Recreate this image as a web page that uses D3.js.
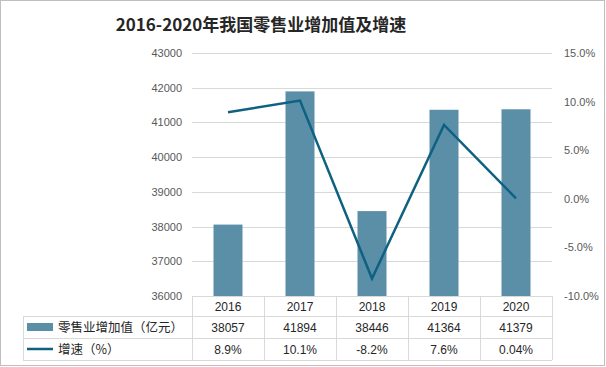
<!DOCTYPE html>
<html><head><meta charset="utf-8">
<script src="https://cdn.jsdelivr.net/npm/d3@7"></script>
<style>body{margin:0;background:#fff}svg{display:block}</style>
</head><body><svg id="c" width="606" height="367"></svg>
<script>
const years = ["2016","2017","2018","2019","2020"];
const values = [38057,41894,38446,41364,41379];
const growth = [8.9,10.1,-8.2,7.6,0.04];
const growthLabels = ["8.9%","10.1%","-8.2%","7.6%","0.04%"];
const leftTicks = [36000,37000,38000,39000,40000,41000,42000,43000];
const rightTicks = [-10,-5,0,5,10,15];
const seriesNames = ["零售业增加值（亿元）","增速（%）"];
const title = "2016-2020年我国零售业增加值及增速";

const svg = d3.select("#c");
const font = "'Noto Sans CJK SC','Microsoft YaHei',sans-serif";
const gray = "#595959";
const barColor = "#5b8fa8";
const lineColor = "#0f6182";
const gridColor = "#d9d9d9";

svg.append("rect").attr("x",0.5).attr("y",0.5).attr("width",604).attr("height",365)
  .attr("fill","#fff").attr("stroke","#bfbfbf");

svg.append("text").attr("x",261).attr("y",31).attr("text-anchor","middle")
  .attr("font-family",font).attr("font-weight","bold").attr("font-size",17)
  .attr("fill","#262626").text(title);

const x0 = 192, x1 = 552, yTop = 53, yBot = 296;
const x = d3.scaleBand().domain(years).range([x0,x1]);
const yL = d3.scaleLinear().domain([36000,43000]).range([yBot,yTop]);
const yR = d3.scaleLinear().domain([-10,15]).range([yBot,yTop]);

// grid
svg.append("g").selectAll("line").data(leftTicks).join("line")
  .attr("x1",x0).attr("x2",x1).attr("y1",d=>Math.round(yL(d))+0.5).attr("y2",d=>Math.round(yL(d))+0.5)
  .attr("stroke",gridColor).attr("stroke-width",1);

// left axis
const gl = svg.append("g").attr("transform",`translate(${x0},0)`)
  .call(d3.axisLeft(yL).tickValues(leftTicks).tickSize(0).tickPadding(10).tickFormat(d3.format("d")));
gl.select(".domain").remove();
gl.selectAll("text").attr("font-family","'Liberation Sans',Arial,sans-serif").attr("font-size",11).attr("fill",gray);

// right axis
const gr = svg.append("g").attr("transform",`translate(${x1},0)`)
  .call(d3.axisRight(yR).tickValues(rightTicks).tickSize(0).tickPadding(12).tickFormat(d=>d.toFixed(1)+"%"));
gr.select(".domain").remove();
gr.selectAll("text").attr("font-family","'Liberation Sans',Arial,sans-serif").attr("font-size",11).attr("fill",gray);

// bars
const bw = 29;
svg.append("g").selectAll("rect").data(values).join("rect")
  .attr("x",(d,i)=>x(years[i])+x.bandwidth()/2-bw/2).attr("width",bw)
  .attr("y",d=>yL(d)).attr("height",d=>yBot-yL(d)).attr("fill",barColor);

// line
const line = d3.line().x((d,i)=>x(years[i])+x.bandwidth()/2).y(d=>yR(d));
svg.append("path").datum(growth).attr("d",line).attr("fill","none")
  .attr("stroke",lineColor).attr("stroke-width",2.5);

// table
const tb = svg.append("g").attr("stroke",gridColor).attr("stroke-width",1).attr("fill","none");
const rowY = [296,316,338,360];
const tLeft = 23;
tb.append("line").attr("x1",x0).attr("x2",x1).attr("y1",rowY[0]+0.5).attr("y2",rowY[0]+0.5);
for (let r=1;r<4;r++) tb.append("line").attr("x1",tLeft).attr("x2",x1).attr("y1",rowY[r]+0.5).attr("y2",rowY[r]+0.5);
tb.append("line").attr("x1",tLeft+0.5).attr("x2",tLeft+0.5).attr("y1",rowY[1]).attr("y2",rowY[3]);
years.forEach(y=>{
  const xx = Math.round(x(y))+0.5;
  tb.append("line").attr("x1",xx).attr("x2",xx).attr("y1",rowY[0]).attr("y2",rowY[3]);
});
tb.append("line").attr("x1",x1+0.5).attr("x2",x1+0.5).attr("y1",rowY[0]).attr("y2",rowY[3]);

const cellText = (txt, cx, cy) => svg.append("text").attr("x",cx).attr("y",cy)
  .attr("text-anchor","middle").attr("font-family","'Liberation Sans',Arial,sans-serif")
  .attr("font-size",12).attr("fill","#262626").text(txt);
years.forEach((y,i)=>{
  const cx = x(y)+x.bandwidth()/2;
  cellText(y,cx,311);
  cellText(String(values[i]),cx,332);
  cellText(growthLabels[i],cx,354);
});
svg.append("rect").attr("x",27).attr("y",323).attr("width",26).attr("height",8).attr("fill",barColor);
svg.append("line").attr("x1",27).attr("x2",53).attr("y1",349).attr("y2",349).attr("stroke",lineColor).attr("stroke-width",2.5);
svg.append("text").attr("x",58).attr("y",332).attr("font-family",font).attr("font-size",12.5).attr("fill","#262626").text(seriesNames[0]);
svg.append("text").attr("x",58).attr("y",354).attr("font-family",font).attr("font-size",12.5).attr("fill","#262626").text(seriesNames[1]);
</script></body></html>
